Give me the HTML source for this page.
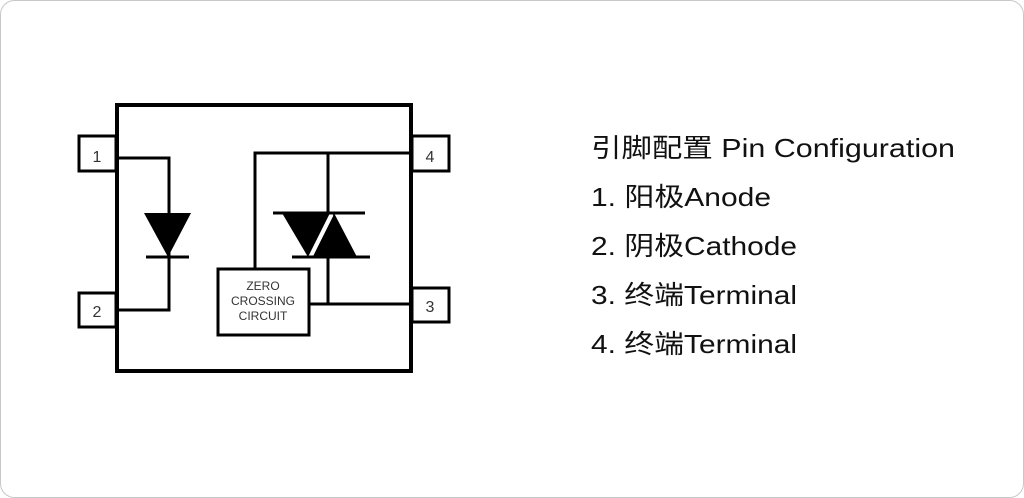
<!DOCTYPE html>
<html><head><meta charset="utf-8"><style>
html,body{margin:0;padding:0;background:#fff;}
svg{display:block;}
</style></head><body>
<svg width="1024" height="498" viewBox="0 0 1024 498" xmlns="http://www.w3.org/2000/svg">
<rect x="0.5" y="0.5" width="1023" height="497" rx="14" fill="#fff" stroke="#c8c8c8" stroke-width="1"/>
<g fill="none" stroke="#000" stroke-width="4">
<rect x="117" y="105" width="294" height="266"/>
<rect x="79" y="136" width="37" height="35" stroke-width="3"/>
<rect x="79" y="293" width="37" height="34" stroke-width="3"/>
<rect x="412" y="136" width="37" height="35" stroke-width="3"/>
<rect x="412" y="288" width="37" height="34" stroke-width="3"/>
</g>
<g fill="none" stroke="#000" stroke-width="3">
<polyline points="117,158 169,158 169,310 117,310"/>
<polyline points="255,268 255,153 411,153"/>
<line x1="328" y1="153" x2="328" y2="213"/>
<line x1="328" y1="257" x2="328" y2="304"/>
<line x1="309" y1="304" x2="411" y2="304"/>
<line x1="146" y1="257" x2="189" y2="257"/>
<line x1="273" y1="213" x2="365" y2="213"/>
<line x1="292" y1="257" x2="370" y2="257"/>
<rect x="218" y="269" width="91" height="66"/>
</g>
<polygon points="144,213 191,213 168,257" fill="#000"/>
<polygon points="282,213 330,213 308,257" fill="#000"/>
<polygon points="334,213 357,257 312,257" fill="#000"/>
<line x1="312" y1="255" x2="332" y2="215" stroke="#fff" stroke-width="3"/>
<g font-family="Liberation Sans, sans-serif" fill="#333" text-anchor="middle">
<text x="97" y="162" font-size="16">1</text><text x="97" y="317" font-size="16">2</text>
<text x="430" y="162" font-size="16">4</text><text x="430" y="312" font-size="16">3</text>
<text x="263" y="290" font-size="12">ZERO</text>
<text x="263" y="305" font-size="12">CROSSING</text>
<text x="263" y="320" font-size="12">CIRCUIT</text>
</g>
<g font-family="Liberation Sans, 'Noto Sans CJK SC', sans-serif" font-size="26" fill="#111">
<text x="591" y="157" textLength="364" lengthAdjust="spacingAndGlyphs">引脚配置 Pin Configuration</text>
<text x="591" y="206" textLength="180" lengthAdjust="spacingAndGlyphs">1. 阳极Anode</text>
<text x="591" y="255" textLength="206" lengthAdjust="spacingAndGlyphs">2. 阴极Cathode</text>
<text x="591" y="304" textLength="206" lengthAdjust="spacingAndGlyphs">3. 终端Terminal</text>
<text x="591" y="353" textLength="206" lengthAdjust="spacingAndGlyphs">4. 终端Terminal</text>
</g>
</svg>
</body></html>
